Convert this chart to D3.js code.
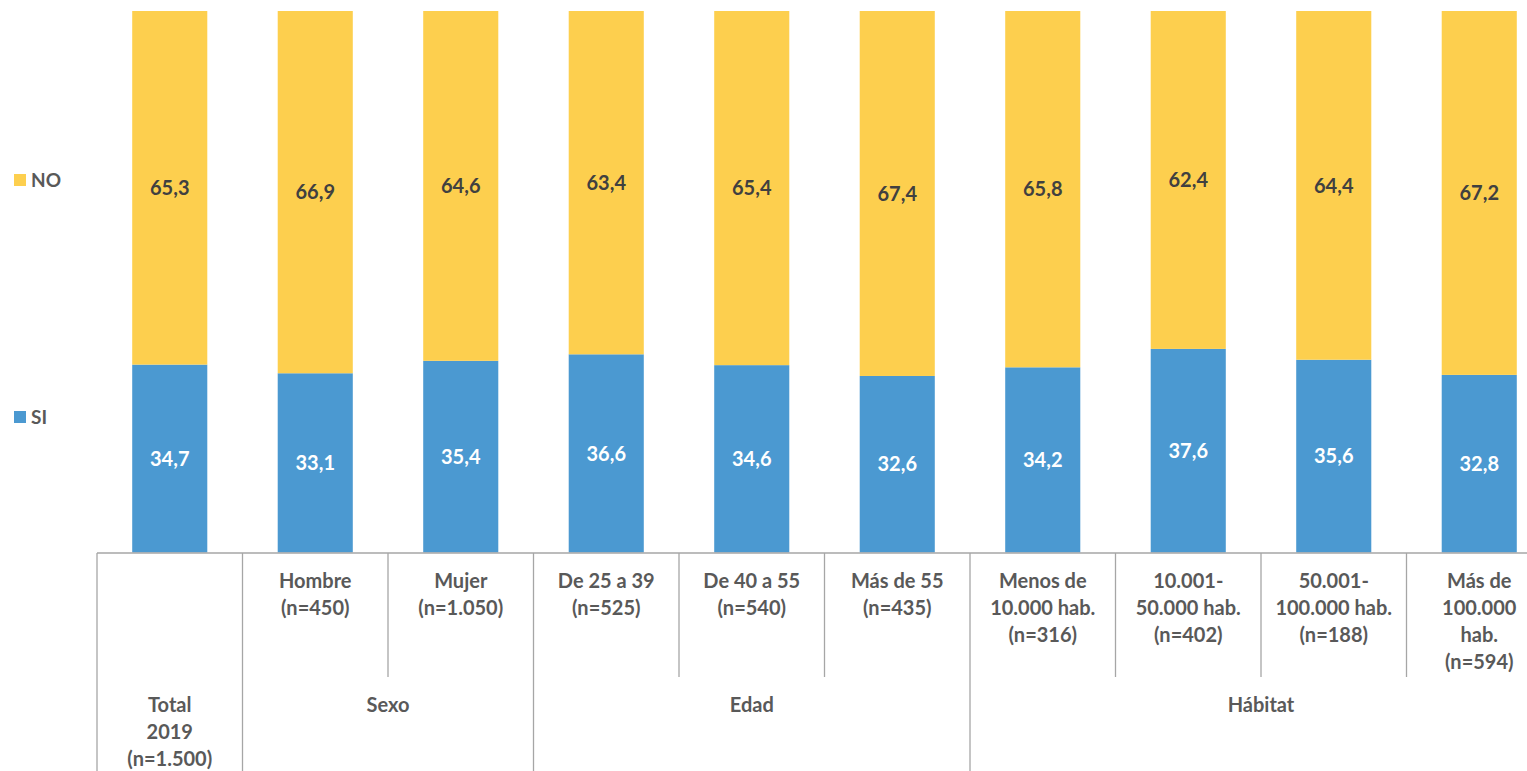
<!DOCTYPE html>
<html>
<head>
<meta charset="utf-8">
<script src="https://cdn.jsdelivr.net/npm/d3@7"></script>
<style>
  html, body { margin: 0; padding: 0; background: #fff; }
  svg { display: block; font-family: Lato, "Open Sans", sans-serif; }
</style>
</head>
<body>
<svg id="chart" width="1527" height="771"></svg>
<script>
// Category keys and their multi-line tick labels
const categories = ["total", "hombre", "mujer", "e25", "e40", "e55", "h10", "h50", "h100", "hmas"];
const categoryLabels = [
  [],
  ["Hombre", "(n=450)"],
  ["Mujer", "(n=1.050)"],
  ["De 25 a 39", "(n=525)"],
  ["De 40 a 55", "(n=540)"],
  ["Más de 55", "(n=435)"],
  ["Menos de", "10.000 hab.", "(n=316)"],
  ["10.001-", "50.000 hab.", "(n=402)"],
  ["50.001-", "100.000 hab.", "(n=188)"],
  ["Más de", "100.000", "hab.", "(n=594)"]
];

// Group row: first and last category index of each group, with its label
const groupNames = [["Total", "2019", "(n=1.500)"], ["Sexo"], ["Edad"], ["Hábitat"]];
const groupStart = [0, 1, 3, 6];
const groupEnd   = [0, 2, 5, 9];

// Series values (%)
const siValues = [34.7, 33.1, 35.4, 36.6, 34.6, 32.6, 34.2, 37.6, 35.6, 32.8];
const noValues = [65.3, 66.9, 64.6, 63.4, 65.4, 67.4, 65.8, 62.4, 64.4, 67.2];

const seriesNames = ["SI", "NO"];
const seriesColors = ["#4b99d1", "#fdcf4e"];

const svg = d3.select("#chart");

const plotLeft = 97, cellWidth = 145.5;
const x = d3.scaleBand()
  .domain(categories)
  .range([plotLeft, plotLeft + cellWidth * categories.length])
  .paddingInner(0).paddingOuter(0);
const barWidth = x.bandwidth() * 0.516;

const y = d3.scaleLinear().domain([0, 100]).range([552.5, 11]);

// Stacked data
const rows = categories.map((c, i) => ({ key: c, SI: siValues[i], NO: noValues[i] }));
const stack = d3.stack().keys(seriesNames)(rows);

const layers = svg.append("g").selectAll("g")
  .data(stack)
  .join("g")
  .attr("fill", (d, i) => seriesColors[i]);

layers.selectAll("rect")
  .data(d => d)
  .join("rect")
  .attr("x", d => x(d.data.key) + (x.bandwidth() - barWidth) / 2)
  .attr("width", barWidth)
  .attr("y", d => y(d[1]))
  .attr("height", d => y(d[0]) - y(d[1]));

// Value labels inside segments
const fmt = v => d3.format(".1f")(v).replace(".", ",");
stack.forEach((layer, li) => {
  svg.append("g").selectAll("text")
    .data(layer)
    .join("text")
    .attr("x", d => x(d.data.key) + x.bandwidth() / 2)
    .attr("y", d => (y(d[0]) + y(d[1])) / 2)
    .attr("dy", "0.36em")
    .attr("text-anchor", "middle")
    .attr("font-size", 20)
    .attr("font-weight", 700)
    .attr("fill", li === 0 ? "#ffffff" : "#404040")
    .text(d => fmt(d[1] - d[0]));
});

// Category axis drawn as a table
const axisColor = "#a6a6a6";
const axisY = 553, innerBottom = 677, outerBottom = 771;
const axis = svg.append("g").attr("stroke", axisColor).attr("stroke-width", 1.3);

axis.append("line")
  .attr("x1", plotLeft).attr("x2", 1527)
  .attr("y1", axisY).attr("y2", axisY);

// Divider lines: full height at group boundaries, short between categories
const isGroupBoundary = i => groupStart.includes(i);
categories.forEach((c, i) => {
  const xx = x(c);
  axis.append("line")
    .attr("x1", xx).attr("x2", xx)
    .attr("y1", axisY)
    .attr("y2", isGroupBoundary(i) ? outerBottom : innerBottom);
});

const labelStyle = sel => sel
  .attr("text-anchor", "middle")
  .attr("font-size", 20)
  .attr("font-weight", 700)
  .attr("fill", "#595959");

// Category tick labels
categories.forEach((c, i) => {
  const t = svg.append("text").call(labelStyle);
  categoryLabels[i].forEach((line, k) => {
    t.append("tspan")
      .attr("x", x(c) + x.bandwidth() / 2)
      .attr("y", 581 + k * 27)
      .attr("dy", "0.36em")
      .text(line);
  });
});

// Group labels
groupNames.forEach((lines, g) => {
  const x0 = x(categories[groupStart[g]]);
  const x1 = x(categories[groupEnd[g]]) + x.bandwidth();
  const t = svg.append("text").call(labelStyle);
  lines.forEach((line, k) => {
    t.append("tspan")
      .attr("x", (x0 + x1) / 2)
      .attr("y", 705 + k * 27)
      .attr("dy", "0.36em")
      .text(line);
  });
});

// Legend
const legendY = [417, 180];
seriesNames.forEach((name, i) => {
  const g = svg.append("g").attr("transform", `translate(14, ${legendY[i]})`);
  g.append("rect").attr("x", 0).attr("y", -6).attr("width", 12).attr("height", 12)
    .attr("fill", seriesColors[i]);
  g.append("text").attr("x", 17).attr("y", 0).attr("dy", "0.36em")
    .attr("font-size", 19).attr("font-weight", 700).attr("fill", "#595959")
    .text(name);
});
</script>
</body>
</html>
